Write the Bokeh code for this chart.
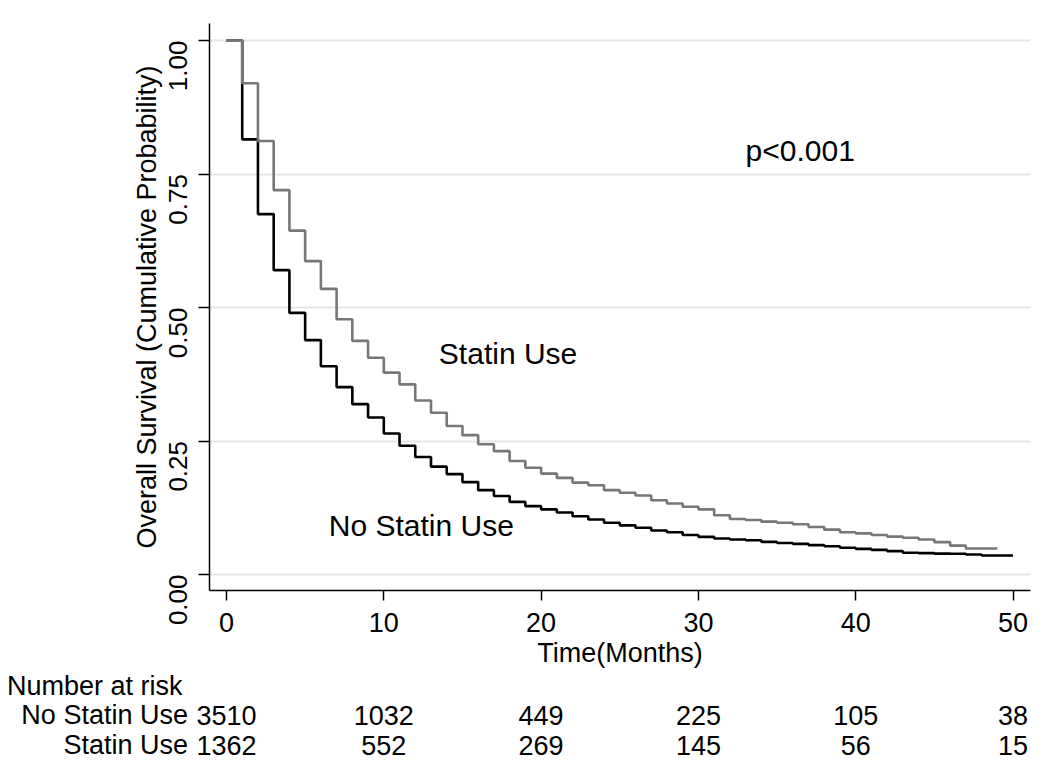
from bokeh.plotting import figure
from bokeh.layouts import column
from bokeh.models import Label, FixedTicker
from bokeh.core.properties import value
from bokeh.embed import file_html
from bokeh.resources import INLINE
import math

# ---------------- data ----------------
months_no_statin = list(range(0, 51))
surv_no_statin = [1.0, 0.815, 0.675, 0.570, 0.490, 0.439, 0.390, 0.351, 0.319, 0.294,
                  0.264, 0.241, 0.220, 0.202, 0.188, 0.173, 0.158, 0.147, 0.136, 0.128,
                  0.122, 0.116, 0.109, 0.103, 0.097, 0.092, 0.0875, 0.0825, 0.079, 0.074,
                  0.0705, 0.0675, 0.0655, 0.064, 0.061, 0.059, 0.0574, 0.055, 0.053, 0.050,
                  0.048, 0.046, 0.0437, 0.0406, 0.040, 0.039, 0.0387, 0.0375, 0.0356, 0.0356,
                  0.0356]

months_statin = list(range(0, 50))
surv_statin = [1.0, 0.92, 0.812, 0.72, 0.644, 0.587, 0.535, 0.478, 0.4375, 0.406,
               0.378, 0.356, 0.326, 0.303, 0.278, 0.261, 0.244, 0.231, 0.2125, 0.200,
               0.189, 0.181, 0.172, 0.167, 0.158, 0.153, 0.148, 0.139, 0.133, 0.127,
               0.122, 0.111, 0.104, 0.102, 0.099, 0.097, 0.094, 0.089, 0.084, 0.079,
               0.077, 0.074, 0.071, 0.0687, 0.0656, 0.0606, 0.054, 0.0487, 0.0487, 0.0487]

x_ticks = [0, 10, 20, 30, 40, 50]
y_ticks = [0.0, 0.25, 0.5, 0.75, 1.0]
y_tick_labels = {0.0: "0.00", 0.25: "0.25", 0.5: "0.50", 0.75: "0.75", 1.0: "1.00"}

risk_times = [0, 10, 20, 30, 40, 50]
risk_no_statin = [3510, 1032, 449, 225, 105, 38]
risk_statin = [1362, 552, 269, 145, 56, 15]
group_names = ["No Statin Use", "Statin Use"]
table_title = "Number at risk"

FONT = "Liberation Sans"

# ---------------- layout constants ----------------
W = 1042
X0, X1 = -1.08, 51.11
FRAME_L, FRAME_R = 209, 1030
MAIN_H = 670
TABLE_H = 92

# ---------------- main figure ----------------
p = figure(width=W, height=MAIN_H, output_backend="svg", toolbar_location=None,
           x_range=(X0, X1), y_range=(-0.030, 1.032),
           min_border_left=FRAME_L, min_border_right=W - FRAME_R, min_border_top=23,
           min_border_bottom=80)
p.frame_align = False
p.outline_line_color = None
p.background_fill_color = "white"
p.border_fill_color = "white"

p.xgrid.visible = False
p.ygrid.ticker = FixedTicker(ticks=y_ticks)
p.ygrid.grid_line_color = "#e6e6e6"
p.ygrid.grid_line_width = 2

p.xaxis.ticker = FixedTicker(ticks=x_ticks)
p.yaxis.ticker = FixedTicker(ticks=y_ticks)
p.yaxis.major_label_overrides = y_tick_labels
p.yaxis.major_label_orientation = math.pi / 2
for ax in (p.xaxis, p.yaxis):
    ax.axis_line_color = "black"
    ax.axis_line_width = 1.5
    ax.major_tick_line_color = "black"
    ax.major_tick_line_width = 1.5
    ax.major_tick_in = 0
    ax.minor_tick_line_color = None
    ax.major_label_text_font = FONT
    ax.major_label_text_color = "black"
    ax.axis_label_text_font = FONT
    ax.axis_label_text_font_style = "normal"
    ax.axis_label_text_color = "black"

p.xaxis.major_tick_out = 10
p.yaxis.major_tick_out = 11
p.xaxis.major_label_text_font_size = "27px"
p.yaxis.major_label_text_font_size = "26px"
p.xaxis.major_label_standoff = 12
p.yaxis.major_label_standoff = 20
p.xaxis.axis_label = "Time(Months)"
p.yaxis.axis_label = "Overall Survival (Cumulative Probability)"
p.xaxis.axis_label_text_font_size = "27px"
p.yaxis.axis_label_text_font_size = "27px"
p.xaxis.axis_label_standoff = 3
p.yaxis.axis_label_standoff = -4

p.step(months_no_statin, surv_no_statin, mode="after", line_color="black", line_width=2.6)
p.step(months_statin, surv_statin, mode="after", line_color="#777777", line_width=2.6)

p.add_layout(Label(x=33.0, y=0.794, text="p<0.001", text_font=FONT, text_font_size="30px",
                   text_baseline="middle", text_color="black"))
p.add_layout(Label(x=13.5, y=0.413, text="Statin Use", text_font=FONT, text_font_size="30px",
                   text_baseline="middle", text_color="black"))
p.add_layout(Label(x=6.5, y=0.092, text="No Statin Use", text_font=FONT, text_font_size="30px",
                   text_baseline="middle", text_color="black"))

# ---------------- number at risk table (same x pixel scale, full-width frame) ----------------
k = (FRAME_R - FRAME_L) / (X1 - X0)
tx0 = X0 - FRAME_L / k
tx1 = X1 + (W - FRAME_R) / k
row_px = 29.6
ty0 = -17.5 / row_px
ty1 = ty0 + TABLE_H / row_px

t = figure(width=W, height=TABLE_H, output_backend="svg", toolbar_location=None,
           x_range=(tx0, tx1), y_range=(ty0, ty1),
           x_axis_location=None, y_axis_location=None,
           min_border_left=0, min_border_right=0, min_border_top=0, min_border_bottom=0)
t.frame_align = False
t.outline_line_color = None
t.grid.visible = False
t.background_fill_color = "white"
t.border_fill_color = "white"

common = dict(text_font=value(FONT), text_font_size="27px", text_baseline="middle",
              text_color="black")
t.text(x=[tx0 + 6.5 / k], y=[2], text=[table_title], text_align="left", **common)
t.text(x=[-2.45, -2.45], y=[1, 0], text=group_names, text_align="right", **common)
t.text(x=risk_times, y=[1] * len(risk_times), text=[str(v) for v in risk_no_statin],
       text_align="center", **common)
t.text(x=risk_times, y=[0] * len(risk_times), text=[str(v) for v in risk_statin],
       text_align="center", **common)

layout = column(p, t, spacing=0)
open("out.html", "w").write(file_html(layout, INLINE))
